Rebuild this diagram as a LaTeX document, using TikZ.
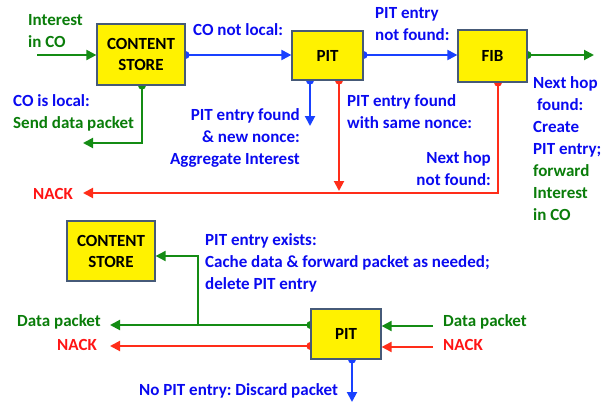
\documentclass[tikz,border=0pt]{standalone}
\usepackage{fontspec}
\setmainfont{Carlito}
\usetikzlibrary{arrows.meta,backgrounds,calc}
\frenchspacing
\definecolor{tblue}{RGB}{10,10,240}
\definecolor{lblue}{RGB}{25,65,255}
\definecolor{tgreen}{RGB}{10,125,10}
\definecolor{lgreen}{RGB}{20,140,20}
\definecolor{tred}{RGB}{255,20,20}
\definecolor{lred}{RGB}{255,45,25}
\definecolor{boxline}{RGB}{70,90,120}
\tikzset{
  unit/.style={draw=boxline, line width=1.2pt, fill=yellow, font=\bfseries\fontsize{17}{21}\selectfont, align=center, inner sep=0pt},
  lbl/.style={font=\bfseries\fontsize{17}{22}\selectfont, inner sep=0pt},
  flow/.style={line width=2pt, -{Triangle[length=10pt,width=10pt]}},
  knob/.style={fill, draw=none, circle, minimum size=8pt, inner sep=0pt},
}
\begin{document}
\begin{tikzpicture}[x=1pt,y=-1pt]
\useasboundingbox (0,0) rectangle (608,404);

% ---- Interest processing ----
\node[unit, minimum width=88pt, minimum height=61pt] (cs) at (141,54.5) {CONTENT\\STORE};
\node[unit, minimum width=71pt, minimum height=49pt] (pit) at (327.5,55.5) {PIT};
\node[unit, minimum width=69pt, minimum height=52pt] (fib) at (492.5,56) {FIB};

\coordinate (inCO) at (37,55);
\coordinate (fwd) at (594,55);
\coordinate (csTurn) at (142,143);
\coordinate (csOut) at (83,143);
\coordinate (nackTurn) at (498,193);
\coordinate (nackOut) at (83,193);
\coordinate (aggEnd) at (310,126);

% ---- Data / NACK processing ----
\node[unit, minimum width=88pt, minimum height=60pt] (cs2) at (111,251) {CONTENT\\STORE};
\node[unit, minimum width=70pt, minimum height=50pt] (pit2) at (346,334) {PIT};

\coordinate (dataOut) at (110,325);
\coordinate (nackOut2) at (110,346);
\coordinate (split) at (198,325);
\coordinate (dataIn) at (433,326);
\coordinate (nackIn) at (433,347);
\coordinate (discard) at (352,402);

\begin{scope}[on background layer]
  % upper half
  \draw[flow, lgreen] (inCO) -- (inCO -| cs.west);
  \draw[flow, lblue] (cs.east |- 0,55) -- (pit.west |- 0,55);
  \node[knob, lblue] at (cs.east |- 0,55) {};
  \draw[flow, lblue] (pit.east |- 0,55) -- (fib.west |- 0,55);
  \node[knob, lblue] at (pit.east |- 0,55) {};
  \draw[flow, lgreen] (fib.east |- fwd) -- (fwd);
  \node[knob, lgreen] at (fib.east |- fwd) {};
  \draw[flow, lgreen] (csTurn |- cs.south) -- (csTurn) -- (csOut);
  \node[knob, lgreen] at (csTurn |- cs.south) {};
  \draw[flow, lblue] (aggEnd |- pit.south) -- (aggEnd);
  \node[knob, lblue] at (aggEnd |- pit.south) {};
  \draw[flow, lred] (339,0 |- pit.south) -- (339,191);
  \node[knob, lred] at (339,0 |- pit.south) {};
  \draw[flow, lred] (nackTurn |- fib.south) -- (nackTurn) -- (nackOut);
  \node[knob, lred] at (nackTurn |- fib.south) {};
  % lower half
  \draw[flow, lgreen] (pit2.west |- dataOut) -- (dataOut);
  \node[knob, lgreen] at (pit2.west |- dataOut) {};
  \draw[flow, lgreen] (split) -- (split |- 0,256) -- (cs2.east |- 0,256);
  \draw[flow, lred] (pit2.west |- nackOut2) -- (nackOut2);
  \node[knob, lred] at (pit2.west |- nackOut2) {};
  \draw[flow, lgreen] (dataIn) -- (dataIn -| pit2.east);
  \draw[flow, lred] (nackIn) -- (nackIn -| pit2.east);
  \draw[flow, lblue] (discard |- pit2.south) -- (discard);
  \node[knob, lblue] at (discard |- pit2.south) {};
\end{scope}

% ---- labels ----
\node[lbl, tgreen, align=left, anchor=north west] (lInterest) at (28,14) {Interest\\in CO};
\node[lbl, tblue, anchor=north west] (lNotLocal) at (193,23) {CO not local:};
\node[lbl, align=left, anchor=north west] (lLocal) at (13,94) {\textcolor{tblue}{CO is local:}\\\textcolor{tgreen}{Send data packet}};
\node[lbl, tblue, align=right, anchor=north east] (lNewNonce) at (300,108) {PIT entry found\\\& new nonce:\\Aggregate Interest};
\node[lbl, tblue, align=left, anchor=north west] (lSameNonce) at (347,94) {PIT entry found\\with same nonce:};
\node[lbl, tblue, align=right, anchor=north east] (lNoHop) at (491,151) {Next hop\\not found:};
\node[lbl, tblue, align=left, anchor=north west] (lNoPit) at (375,7) {PIT entry\\not found:};
\node[lbl, align=left, anchor=north west] (lHop) at (533,76) {\textcolor{tblue}{Next hop}\\\textcolor{tblue}{\ found:}\\\textcolor{tblue}{Create}\\\textcolor{tblue}{PIT entry;}\\\textcolor{tgreen}{forward}\\\textcolor{tgreen}{Interest}\\\textcolor{tgreen}{in CO}};
\node[lbl, tred, anchor=east] (lNack) at (73,194) {NACK};

\node[lbl, tblue, align=left, anchor=north west] (lExists) at (205,233) {PIT entry exists:\\Cache data \& forward packet as needed;\\delete PIT entry};
\node[lbl, tgreen, anchor=east] (lDataOut) at (101,322) {Data packet};
\node[lbl, tred, anchor=east] (lNackOut) at (97,345) {NACK};
\node[lbl, tgreen, anchor=west] (lDataIn) at (443,322) {Data packet};
\node[lbl, tred, anchor=west] (lNackIn) at (443,345) {NACK};
\node[lbl, tblue, anchor=west] (lDiscard) at (139,391) {No PIT entry: Discard packet};
\end{tikzpicture}
\end{document}
